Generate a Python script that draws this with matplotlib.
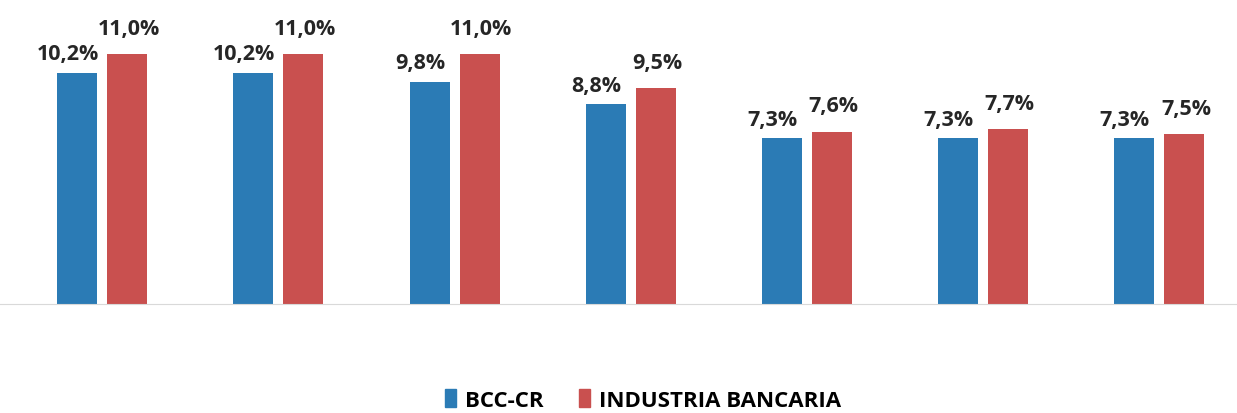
import matplotlib
matplotlib.use("Agg")
import matplotlib.pyplot as plt
import numpy as np
from matplotlib.patches import Patch

categories = ["1", "2", "3", "4", "5", "6", "7"]
bcc_cr = [10.2, 10.2, 9.8, 8.8, 7.3, 7.3, 7.3]
industria = [11.0, 11.0, 11.0, 9.5, 7.6, 7.7, 7.5]
series_names = ["BCC-CR", "INDUSTRIA BANCARIA"]

blue = "#2B7BB5"
red = "#C9504F"

plt.rcParams['font.family'] = ['Open Sans', 'DejaVu Sans']

fig = plt.figure(figsize=(12.37, 4.14), dpi=100)
ax = fig.add_axes([0.0, 0.263, 1.0, 0.713])

x = np.arange(len(categories))
w = 0.227
off = 0.142
b1 = ax.bar(x - off, bcc_cr, w, color=blue)
b2 = ax.bar(x + off, industria, w, color=red)

def fmt(v):
    return f"{v:.1f}%".replace(".", ",")

for xi, v in zip(x, bcc_cr):
    ax.annotate(fmt(v), (xi - off, v), xytext=(-7, 6), textcoords="offset points",
                ha="center", va="bottom", fontsize=15.5, fontweight="bold", color="#262626")
for xi, v in zip(x, industria):
    ax.annotate(fmt(v), (xi + off, v), xytext=(1, 11), textcoords="offset points",
                ha="center", va="bottom", fontsize=15.5, fontweight="bold", color="#262626")

ax.set_xlim(-0.58, 6.44)
ax.set_ylim(0, 13)
for s in ["top", "right", "left"]:
    ax.spines[s].set_visible(False)
ax.spines["bottom"].set_color("#D9D9D9")
ax.set_xticks([])
ax.set_yticks([])

handles = [Patch(color=blue, label=series_names[0]), Patch(color=red, label=series_names[1])]
fig.legend(handles=handles, loc="center", bbox_to_anchor=(0.52, 0.032), ncol=2, frameon=False,
           prop={"weight": "bold", "size": 16}, handlelength=0.5, handleheight=0.9,
           handletextpad=0.4, columnspacing=1.6)

fig.savefig("out.png", dpi=100)
